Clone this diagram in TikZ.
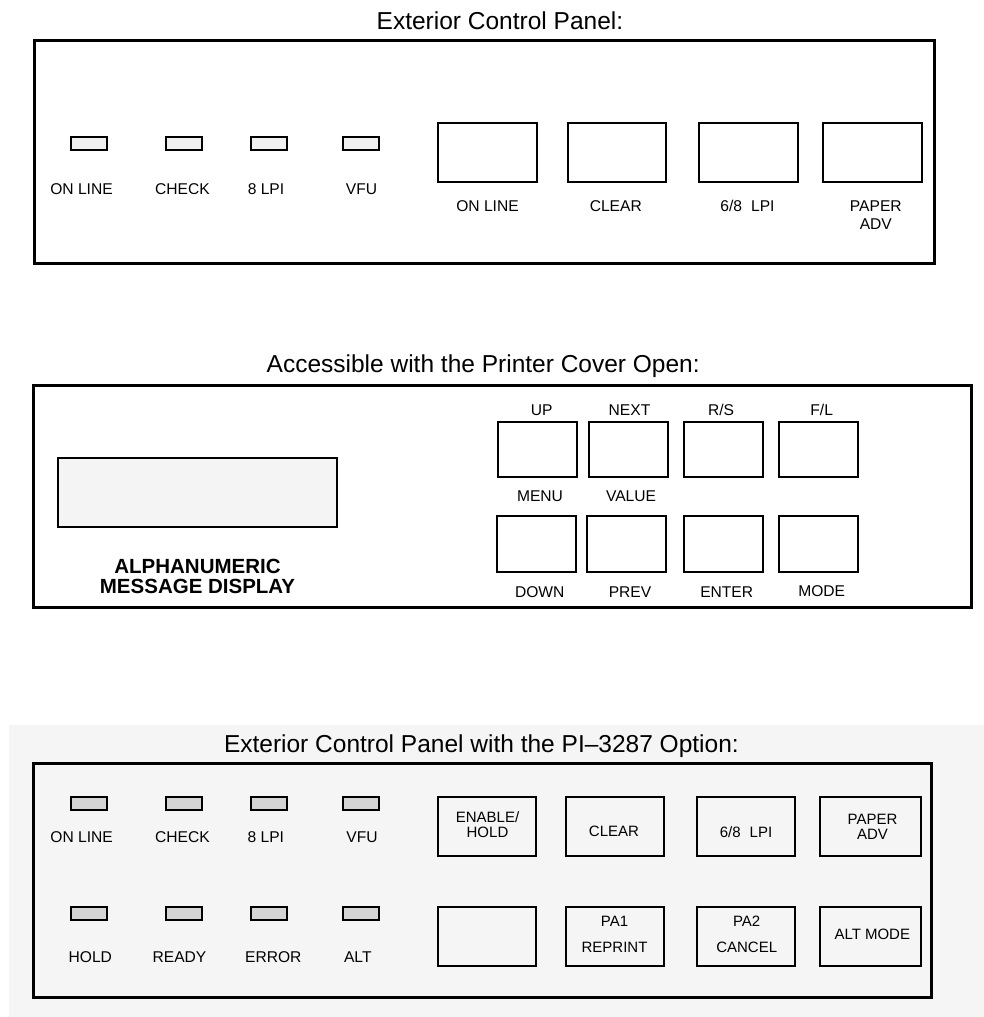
\documentclass[tikz,border=0pt]{standalone}
\usepackage{fontspec}
\setmainfont{Liberation Sans}
\definecolor{ledlight}{RGB}{240,240,240}
\definecolor{leddark}{RGB}{212,212,212}
\definecolor{dispfill}{RGB}{244,244,244}
\definecolor{bgfill}{RGB}{245,245,245}
\tikzset{
  panelbox/.style={draw=black, line width=3pt, inner sep=0pt, outer sep=0pt},
  btnbox/.style={draw=black, line width=2pt, inner sep=0pt, outer sep=0pt},
  ledbox/.style={draw=black, line width=2pt, inner sep=0pt, outer sep=0pt, minimum width=36pt, minimum height=13pt},
  lbl/.style={inner sep=0pt, outer sep=0pt, font=\fontsize{15.6}{15.6}\selectfont, align=center},
  inlbl/.style={inner sep=0pt, outer sep=0pt, font=\fontsize{15}{15}\selectfont, align=center},
  ttl/.style={inner sep=0pt, outer sep=0pt, anchor=base west, font=\fontsize{24.5}{24.5}\selectfont},
}
\begin{document}
\begin{tikzpicture}[x=1pt, y=-1pt]
\useasboundingbox (0,0) rectangle (984,1017);

% ---------------- Top panel ----------------
\node[ttl] (t1) at (376.7,29.3) {Exterior Control Panel:};
\node[panelbox, minimum width=900.5pt, minimum height=222.5pt] (p1) at (484.25,151.75) {};
\foreach \x/\n in {89/a,184/b,269/c,360.5/d}{
  \node[ledbox, fill=ledlight] (l1\n) at (\x,143) {};
}
\node[lbl] (l1at) at (81.5,189) {ON LINE};
\node[lbl] (l1bt) at (182.5,189) {CHECK};
\node[lbl] (l1ct) at (266,189) {8 LPI};
\node[lbl] (l1dt) at (361.5,189) {VFU};
\foreach \x/\n in {487.5/a,616.8/b,748.3/c,872.5/d}{
  \node[btnbox, minimum width=98.4pt, minimum height=58.4pt] (b1\n) at (\x,152.5) {};
}
\node[lbl] (b1at) at (487.5,206) {ON LINE};
\node[lbl] (b1bt) at (615.8,206) {CLEAR};
\node[lbl] (b1ct) at (747.5,206) {6/8\hspace{9pt}LPI};
\node[lbl, font=\fontsize{15.6}{18}\selectfont] (b1dt) at (875.8,215) {PAPER\\ADV};

% ---------------- Middle panel ----------------
\node[ttl] (t2) at (266.7,372) {Accessible with the Printer Cover Open:};
\node[panelbox, minimum width=938pt, minimum height=222pt] (p2) at (502,496) {};
\node[btnbox, fill=dispfill, minimum width=279.6pt, minimum height=69.3pt] (disp) at (197.5,492.3) {};
\node[inner sep=0pt, align=center, font=\fontsize{20.5}{20}\selectfont\bfseries] (dispt) at (197.5,576.7) {ALPHANUMERIC\\MESSAGE DISPLAY};
\foreach \x/\n in {537.2/a,628.8/b,723.7/c,818.3/d}{
  \node[btnbox, minimum width=79pt, minimum height=55pt] (m1\n) at (\x,449.2) {};
}
\foreach \x/\n in {536.3/a,626.2/b,723.7/c,818.3/d}{
  \node[btnbox, minimum width=79pt, minimum height=55.7pt] (m2\n) at (\x,543.8) {};
}
\node[lbl] (m1at) at (541.7,410) {UP};
\node[lbl] (m1bt) at (629.5,410) {NEXT};
\node[lbl] (m1ct) at (721,410) {R/S};
\node[lbl] (m1dt) at (821.7,410) {F/L};
\node[lbl] (m1am) at (540,496.7) {MENU};
\node[lbl] (m1bm) at (631,496.7) {VALUE};
\node[lbl] (m2at) at (539.7,591.7) {DOWN};
\node[lbl] (m2bt) at (630,591.7) {PREV};
\node[lbl] (m2ct) at (726.7,591.7) {ENTER};
\node[lbl] (m2dt) at (821.7,590.7) {MODE};

% ---------------- Bottom panel ----------------
\fill[bgfill] (9,725) rectangle (984,1017);
\node[ttl] (t3) at (224,752.7) {Exterior Control Panel with the PI\textendash 3287 Option:};
\node[panelbox, minimum width=898.5pt, minimum height=234pt] (p3) at (482.25,880.5) {};
\foreach \x/\n in {89.3/a,184/b,269/c,360.7/d}{
  \node[ledbox, fill=leddark] (q1\n) at (\x,803) {};
  \node[ledbox, fill=leddark] (q2\n) at (\x,913.3) {};
}
\node[lbl] (q1at) at (81.7,836.7) {ON LINE};
\node[lbl] (q1bt) at (182.5,836.7) {CHECK};
\node[lbl] (q1ct) at (265.8,836.7) {8 LPI};
\node[lbl] (q1dt) at (362,836.7) {VFU};
\node[lbl] (q2at) at (90.3,957.3) {HOLD};
\node[lbl] (q2bt) at (179.5,957.3) {READY};
\node[lbl] (q2ct) at (273.3,957.3) {ERROR};
\node[lbl] (q2dt) at (357.8,957.3) {ALT};
\foreach \x/\w/\n in {487.2/97.7/a,615.2/98.3/b,745.8/98.3/c,870.3/100.7/d}{
  \node[btnbox, minimum width=\w pt, minimum height=58.4pt] (c1\n) at (\x,826.5) {};
  \node[btnbox, minimum width=\w pt, minimum height=58.7pt] (c2\n) at (\x,936.7) {};
}
\node[inlbl] (c1at) at (487.5,824.2) {ENABLE/\\HOLD};
\node[inlbl] (c1bt) at (614,831.7) {CLEAR};
\node[inlbl] (c1ct) at (746,831.7) {6/8\hspace{9pt}LPI};
\node[inlbl, font=\fontsize{15}{14.7}\selectfont] (c1dt) at (872.5,826.7) {PAPER\\ADV};
\node[inlbl] (c2bt) at (614.5,921.7) {PA1};
\node[inlbl] (c2bu) at (614.5,947.3) {REPRINT};
\node[inlbl] (c2ct) at (746.7,921.7) {PA2};
\node[inlbl] (c2cu) at (746.7,947.3) {CANCEL};
\node[inlbl] (c2dt) at (872.3,934.3) {ALT MODE};
\end{tikzpicture}
\end{document}
